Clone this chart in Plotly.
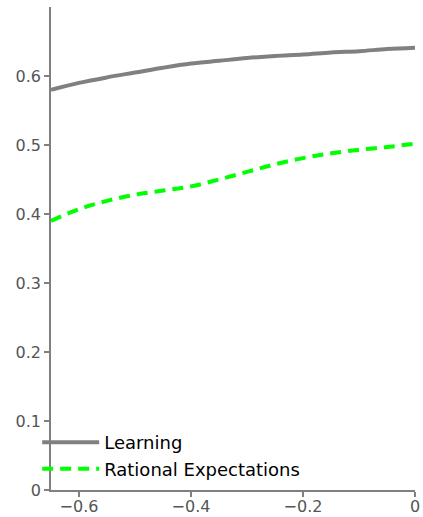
import plotly.graph_objects as go

learn_x = [-0.65, -0.6, -0.55, -0.5, -0.45, -0.4, -0.35, -0.3, -0.25, -0.2, -0.15, -0.1, -0.05, 0.0]
learn_y = [0.580, 0.590, 0.598, 0.605, 0.612, 0.618, 0.622, 0.626, 0.629, 0.631, 0.634, 0.636, 0.639, 0.641]

re_x = [-0.65, -0.6, -0.55, -0.5, -0.45, -0.4, -0.35, -0.3, -0.25, -0.2, -0.15, -0.1, -0.05, 0.0]
re_y = [0.390, 0.407, 0.419, 0.428, 0.434, 0.440, 0.450, 0.461, 0.472, 0.481, 0.488, 0.493, 0.497, 0.502]

x_ticks = [-0.6, -0.4, -0.2, 0]
y_ticks = [0, 0.1, 0.2, 0.3, 0.4, 0.5, 0.6]

fig = go.Figure()
fig.add_trace(go.Scatter(x=learn_x, y=learn_y, mode="lines", name="Learning",
                         line=dict(color="#808080", width=4, shape="spline")))
fig.add_trace(go.Scatter(x=re_x, y=re_y, mode="lines", name="Rational Expectations",
                         line=dict(color="#00ff00", width=4, dash="11px,7px", shape="spline")))

axis_common = dict(showgrid=False, zeroline=False, showline=True, linecolor="#808080",
                   linewidth=1.5, ticks="outside", ticklen=5, tickcolor="#808080", tickwidth=1.5,
                   automargin=False,
                   tickfont=dict(family="DejaVu Sans", size=16, color="#555555"))
fig.update_xaxes(range=[-0.65, 0], tickvals=x_ticks, ticklabelstandoff=-4, **axis_common)
fig.update_yaxes(range=[0, 0.7], tickvals=y_ticks, **axis_common)

fig.update_layout(
    width=423, height=517,
    margin=dict(l=51, r=8, t=7, b=27, autoexpand=False),
    plot_bgcolor="white", paper_bgcolor="white",
    legend=dict(x=-0.038, y=0.006, xanchor="left", yanchor="bottom", itemwidth=57,
                bgcolor="rgba(0,0,0,0)", tracegroupgap=0,
                font=dict(family="DejaVu Sans", size=18, color="black")),
)
fig.write_html("out.html", config={"displayModeBar": False},
               post_script="document.body.style.margin='0';")
